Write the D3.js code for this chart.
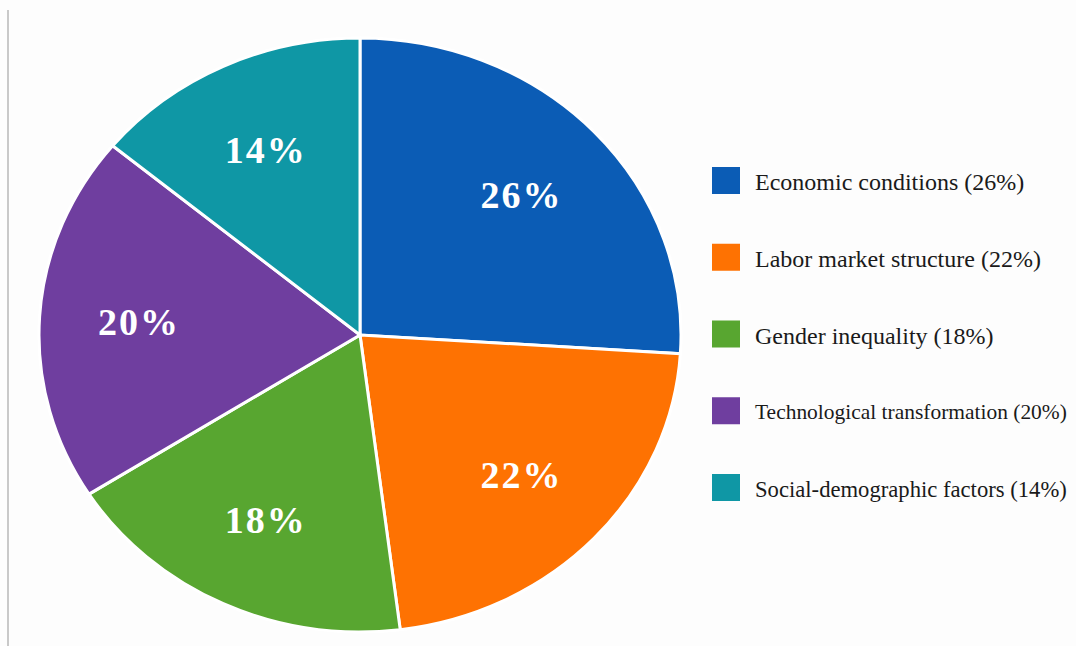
<!DOCTYPE html>
<html>
<head>
<meta charset="utf-8">
<script src="https://cdn.jsdelivr.net/npm/d3@7"></script>
<style>
  body { margin: 0; background: #fdfdfd; }
  svg { display: block; }
  .serif { font-family: "Times New Roman", Times, "Liberation Serif", Tinos, serif; }
</style>
</head>
<body>
<svg id="chart" width="1076" height="646"></svg>
<script>
// data
var categories = ["Economic conditions", "Labor market structure", "Gender inequality",
                  "Technological transformation", "Social-demographic factors"];
var shares = [26, 22, 18, 20, 14];
var colours = ["#0b5cb5", "#fe7202", "#58a630", "#6f3e9f", "#0f97a5"];

var width = 1076, height = 646;
var cx = 360, cy = 335;
var rx = 321, ry = 297;   // the pie is drawn slightly squashed

var svg = d3.select("#chart");

// thin grey rule at the left
svg.append("line")
    .attr("x1", 8).attr("x2", 8)
    .attr("y1", 10).attr("y2", 646)
    .attr("stroke", "#c9c9c9")
    .attr("stroke-width", 2);

var data = categories.map(function(c, i) {
    return {name: c, value: shares[i], colour: colours[i]};
});

var pie = d3.pie()
    .value(function(d) { return d.value; })
    .sort(null);

var arc = d3.arc().innerRadius(0).outerRadius(rx);
var labelArc = d3.arc().innerRadius(rx * 0.69).outerRadius(rx * 0.69);

var arcs = pie(data);

var g = svg.append("g")
    .attr("transform", "translate(" + cx + "," + cy + ") scale(1," + (ry / rx) + ")");

g.selectAll("path.slice")
    .data(arcs)
    .enter()
    .append("path")
    .attr("class", "slice")
    .attr("d", arc)
    .attr("fill", function(d) { return d.data.colour; })
    .attr("stroke", "#ffffff")
    .attr("stroke-width", 3)
    .attr("vector-effect", "non-scaling-stroke");

// percent labels (placed outside the scaled group so text is not squashed)
svg.selectAll("text.pct")
    .data(arcs)
    .enter()
    .append("text")
    .attr("class", "pct serif")
    .attr("x", function(d) { return cx + labelArc.centroid(d)[0]; })
    .attr("y", function(d) { return cy + labelArc.centroid(d)[1] * ry / rx; })
    .attr("text-anchor", "middle")
    .attr("dominant-baseline", "central")
    .attr("fill", "#ffffff")
    .style("font-weight", "bold")
    .style("font-size", "38px")
    .style("letter-spacing", "2px")
    .text(function(d) { return d.data.value + "%"; });

// legend
var legendY = d3.scalePoint()
    .domain(categories)
    .range([181, 488]);

var legend = svg.append("g").attr("class", "legend");

var items = legend.selectAll("g.item")
    .data(data)
    .enter()
    .append("g")
    .attr("class", "item")
    .attr("transform", function(d) { return "translate(712," + legendY(d.name) + ")"; });

items.append("rect")
    .attr("x", 0)
    .attr("y", -14)
    .attr("width", 28)
    .attr("height", 27)
    .attr("fill", function(d) { return d.colour; });

var baseSize = 24;
var maxTextWidth = 312;

items.append("text")
    .attr("class", "serif")
    .attr("x", 43)
    .attr("y", 1)
    .attr("dominant-baseline", "central")
    .attr("fill", "#1a1a1a")
    .style("font-size", baseSize + "px")
    .text(function(d) { return d.name + " (" + d.value + "%)"; })
    .each(function() {
        // shrink the long ones a little so they stay inside the page
        var w = this.getComputedTextLength();
        if (w > maxTextWidth) {
            d3.select(this).style("font-size", (baseSize * maxTextWidth / w).toFixed(2) + "px");
        }
    });
</script>
</body>
</html>
